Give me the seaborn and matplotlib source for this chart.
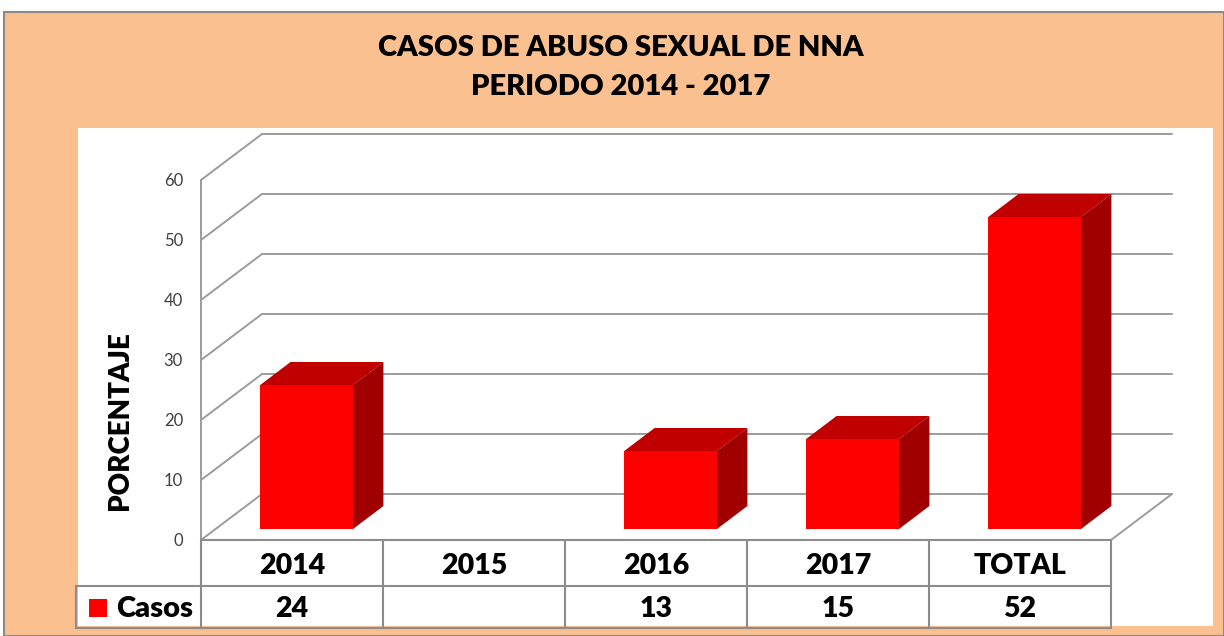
"""Casos de abuso sexual de NNA, periodo 2014-2017: Excel-style 3D column chart with a data table."""

import numpy as np
import pandas as pd
import matplotlib
matplotlib.use("Agg")
import matplotlib.pyplot as plt
import matplotlib.transforms as mtransforms
from matplotlib.patches import Polygon, Rectangle
from matplotlib.lines import Line2D
import seaborn as sns

CATEGORIES = ["2014", "2015", "2016", "2017", "TOTAL"]
CASOS = [24, np.nan, 13, 15, 52]
Y_TICKS = [0, 10, 20, 30, 40, 50, 60]
TITLE = "CASOS DE ABUSO SEXUAL DE NNA\nPERIODO 2014 - 2017"
Y_LABEL = "PORCENTAJE"
SERIES = "Casos"

W, H, DPI = 1224, 636, 100
PEACH = "#FAC090"
GRID = "#9C9C9C"
RED_FRONT, RED_TOP, RED_SIDE = "#FF0000", "#C00000", "#A00000"
INK = "#000000"
HEAVY = 800

# 3D depth offsets (pixels): bar front, bar back, back wall
BAR_D0 = (14.6, 11)
BAR_D1 = (45.0, 34)
WALL_D = (61.0, 46)

sns.set_style("white")
plt.rcParams["font.family"] = ["Lato", "DejaVu Sans"]

fig = plt.figure(figsize=(W / DPI, H / DPI), dpi=DPI)
fig.patch.set_facecolor("white")


def fx(px):
    return px / W


def fy(py):
    return 1 - py / H


# background panels
fig.add_artist(Rectangle((fx(4), 0), fx(W - 4), fy(12), transform=fig.transFigure,
                         facecolor=PEACH, edgecolor="#8A8A8A", lw=1.5, zorder=0))
fig.add_artist(Rectangle((fx(78), fy(626)), fx(1213 - 78), fy(128) - fy(626),
                         transform=fig.transFigure, facecolor="white", edgecolor="none", zorder=0))

fig.text(fx(621), fy(48), TITLE.split("\n")[0], ha="center", va="center", fontsize=21,
         fontweight=HEAVY, color=INK)
fig.text(fx(621), fy(87), TITLE.split("\n")[1], ha="center", va="center", fontsize=21,
         fontweight=HEAVY, color=INK)

# front plane of the 3D box: x 201..1111, y 540 (0) .. 180 (60)
ax = fig.add_axes([fx(201), fy(540), fx(1111 - 201), fy(180) - fy(540)])
ax.patch.set_visible(False)

df = pd.DataFrame({"cat": CATEGORIES, "n": CASOS}).dropna()
sns.barplot(data=df, x="cat", y="n", order=CATEGORIES, color=RED_FRONT,
            saturation=1, width=0.51, ax=ax, edgecolor="none", zorder=5)

ax.set_xlim(-0.5, len(CATEGORIES) - 0.5)
ax.set_ylim(0, 60)
ax.set_yticks(Y_TICKS)
ax.set_yticklabels([str(t) for t in Y_TICKS])
ax.tick_params(axis="y", length=0, pad=13, labelsize=12, labelcolor="#404040")
ax.set_xticks([])
ax.set_xlabel("")
ax.set_ylabel("")
for s in ax.spines.values():
    s.set_visible(False)

ident = mtransforms.IdentityTransform()


def disp(x, y, d=(0, 0)):
    px, py = ax.transData.transform((x, y))
    return (px + d[0], py + d[1])


x0, x1 = -0.5, len(CATEGORIES) - 0.5

# walls and gridlines
for t in Y_TICKS:
    a, b = disp(x0, t), disp(x0, t, WALL_D)
    ax.add_line(Line2D([a[0], b[0]], [a[1], b[1]], transform=ident, color=GRID,
                       lw=1.4, clip_on=False, zorder=1))
    a, b = disp(x0, t, WALL_D), disp(x1, t, WALL_D)
    ax.add_line(Line2D([a[0], b[0]], [a[1], b[1]], transform=ident, color=GRID,
                       lw=1.4, clip_on=False, zorder=1))
a, b = disp(x0, 0), disp(x0, 60)
ax.add_line(Line2D([a[0], b[0]], [a[1], b[1]], transform=ident, color=GRID,
                   lw=1.4, clip_on=False, zorder=1))
a, b = disp(x1, 0), disp(x1, 0, WALL_D)
ax.add_line(Line2D([a[0], b[0]], [a[1], b[1]], transform=ident, color=GRID,
                   lw=1.4, clip_on=False, zorder=1))

# 3D bars: shift front faces, then add top and side faces
shift = mtransforms.offset_copy(ax.transData, fig=fig, x=BAR_D0[0], y=BAR_D0[1], units="dots")
for p in ax.patches:
    bx0, bh = p.get_x(), p.get_height()
    bx1 = bx0 + p.get_width()
    if not np.isfinite(bh):
        continue
    p.set_transform(shift)
    top = [disp(bx0, bh, BAR_D0), disp(bx1, bh, BAR_D0), disp(bx1, bh, BAR_D1), disp(bx0, bh, BAR_D1)]
    side = [disp(bx1, 0, BAR_D0), disp(bx1, bh, BAR_D0), disp(bx1, bh, BAR_D1), disp(bx1, 0, BAR_D1)]
    ax.add_patch(Polygon(top, closed=True, transform=ident, facecolor=RED_TOP,
                         edgecolor="none", clip_on=False, zorder=6))
    ax.add_patch(Polygon(side, closed=True, transform=ident, facecolor=RED_SIDE,
                         edgecolor="none", clip_on=False, zorder=6))

fig.text(fx(120), fy(421), Y_LABEL, rotation=90, ha="center", va="center",
         fontsize=20, fontweight=HEAVY, color=INK)

# data table under the plot
blend = mtransforms.blended_transform_factory(ax.transData, fig.transFigure)
TBL = "#8C8C8C"
row_top, row_mid, row_bot = 540, 586, 628
ax.add_line(Line2D([x0, x1], [fy(row_top)] * 2, transform=blend, color=TBL, lw=1.5, clip_on=False, zorder=3))
ax.add_line(Line2D([x0, x1], [fy(row_mid)] * 2, transform=blend, color=TBL, lw=1.5, clip_on=False, zorder=3))
ax.add_line(Line2D([x0, x1], [fy(row_bot)] * 2, transform=blend, color=TBL, lw=1.5, clip_on=False, zorder=3))
for k in range(len(CATEGORIES) + 1):
    ax.add_line(Line2D([x0 + k] * 2, [fy(row_top), fy(row_bot)], transform=blend, color=TBL,
                       lw=1.5, clip_on=False, zorder=3))
fig.add_artist(Line2D([fx(76), fx(201)], [fy(row_mid)] * 2, color=TBL, lw=1.5))
fig.add_artist(Line2D([fx(76), fx(201)], [fy(row_bot)] * 2, color=TBL, lw=1.5))
fig.add_artist(Line2D([fx(76)] * 2, [fy(row_mid), fy(row_bot)], color=TBL, lw=1.5))

for i, (cat, v) in enumerate(zip(CATEGORIES, CASOS)):
    ax.text(i, fy(566), cat, transform=blend, ha="center", va="center",
            fontsize=20.5, fontweight=HEAVY, color=INK)
    if np.isfinite(v):
        ax.text(i, fy(609), f"{v:.0f}", transform=blend, ha="center", va="center",
                fontsize=20.5, fontweight=HEAVY, color=INK)

fig.add_artist(Rectangle((fx(89), fy(617)), fx(18), fy(599) - fy(617), transform=fig.transFigure,
                         facecolor=RED_FRONT, edgecolor="none"))
fig.text(fx(116), fy(609), SERIES, ha="left", va="center", fontsize=21,
         fontweight=HEAVY, color=INK)

fig.savefig("out.png", dpi=DPI, facecolor="white")
